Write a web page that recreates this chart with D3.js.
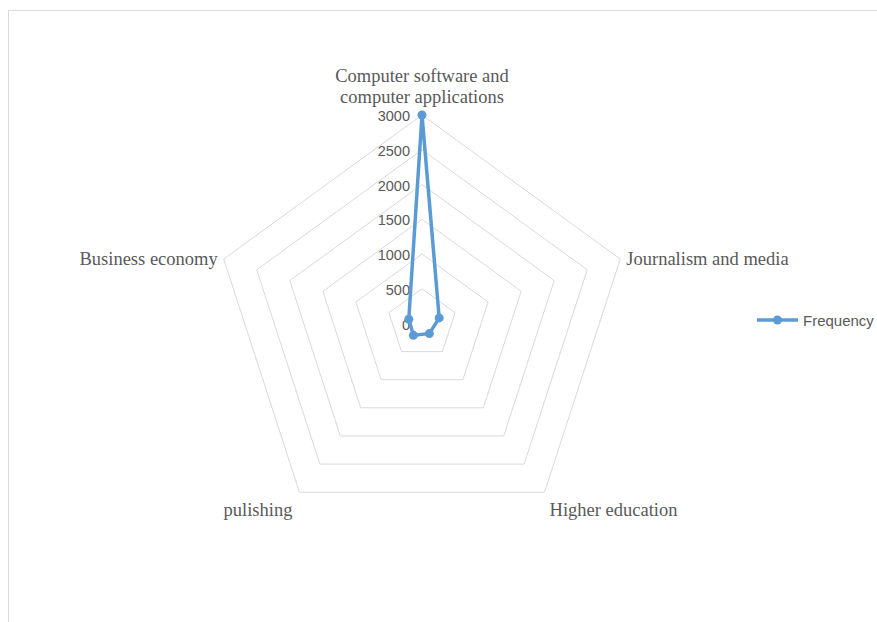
<!DOCTYPE html>
<html>
<head>
<meta charset="utf-8">
<script src="https://cdn.jsdelivr.net/npm/d3@7"></script>
<style>
  body { margin: 0; background: #fff; }
  svg { display: block; }
  .cat-label { font-family: "Liberation Serif", "Times New Roman", serif; font-size: 18.5px; fill: #595959; }
  .tick-label { font-family: "Liberation Sans", Arial, sans-serif; font-size: 14.5px; fill: #595959; }
  .legend-label { font-family: "Liberation Sans", Arial, sans-serif; font-size: 15px; fill: #595959; }
</style>
</head>
<body>
<svg id="chart"></svg>
<script>
// Data
const categories = [
  "Computer software and computer applications",
  "Journalism and media",
  "Higher education",
  "pulishing",
  "Business economy"
];
const frequency = [3000, 260, 180, 210, 200];
const tickValues = [0, 500, 1000, 1500, 2000, 2500, 3000];
const seriesName = "Frequency";

const width = 877, height = 622;
const cx = 422, cy = 323.5, radius = 208.5;
const lineColor = "#5B9BD5";
const gridColor = "#D9D9D9";

const svg = d3.select("#chart")
  .attr("width", width)
  .attr("height", height);

// chart area border (runs off right/bottom)
svg.append("rect")
  .attr("x", 8.5).attr("y", 10.5)
  .attr("width", 900).attr("height", 700)
  .attr("fill", "none")
  .attr("stroke", gridColor)
  .attr("stroke-width", 1);

const g = svg.append("g").attr("transform", `translate(${cx},${cy})`);

const rScale = d3.scaleLinear().domain([0, 3000]).range([0, radius]);
const angle = d3.scalePoint()
  .domain(categories)
  .range([0, 2 * Math.PI * (categories.length - 1) / categories.length]);

const radialLine = d3.lineRadial().curve(d3.curveLinearClosed);

// grid pentagons
g.selectAll(".ring")
  .data(tickValues.filter(v => v > 0))
  .join("path")
  .attr("class", "ring")
  .attr("d", v => radialLine(categories.map(c => [angle(c), rScale(v)])))
  .attr("fill", "none")
  .attr("stroke", gridColor)
  .attr("stroke-width", 1);

// tick labels along the top axis
g.selectAll(".tick-label")
  .data(tickValues)
  .join("text")
  .attr("class", "tick-label")
  .attr("x", -12)
  .attr("y", v => -rScale(v) + 1)
  .attr("text-anchor", "end")
  .attr("dominant-baseline", "central")
  .text(v => v);

// series
const pts = categories.map((c, i) => [angle(c), rScale(frequency[i])]);
g.append("path")
  .attr("d", radialLine(pts))
  .attr("fill", "none")
  .attr("stroke", lineColor)
  .attr("stroke-width", 3.5)
  .attr("stroke-linejoin", "round");

g.selectAll(".marker")
  .data(pts)
  .join("circle")
  .attr("class", "marker")
  .attr("cx", d => d[1] * Math.sin(d[0]))
  .attr("cy", d => -d[1] * Math.cos(d[0]))
  .attr("r", 4.5)
  .attr("fill", lineColor);

// category labels
categories.forEach((c, i) => {
  const a = angle(c);
  const vx = radius * Math.sin(a), vy = -radius * Math.cos(a);
  const t = g.append("text").attr("class", "cat-label");
  if (i === 0) {
    t.attr("text-anchor", "middle");
    t.append("tspan").attr("x", vx).attr("y", vy - 33).text("Computer software and");
    t.append("tspan").attr("x", vx).attr("y", vy - 12).text("computer applications");
  } else if (Math.abs(vy) < radius * 0.5) {
    t.attr("x", vx + (vx > 0 ? 6 : -6))
      .attr("y", vy + 6)
      .attr("text-anchor", vx > 0 ? "start" : "end")
      .text(c);
  } else {
    t.attr("x", vx + (vx > 0 ? 5 : -7))
      .attr("y", vy + 23.5)
      .attr("text-anchor", vx > 0 ? "start" : "end")
      .text(c);
  }
});

// legend
const legend = svg.append("g").attr("transform", "translate(757,320)");
legend.append("line")
  .attr("x1", 0).attr("x2", 41)
  .attr("y1", 0).attr("y2", 0)
  .attr("stroke", lineColor)
  .attr("stroke-width", 3.5);
legend.append("circle")
  .attr("cx", 20.5).attr("cy", 0).attr("r", 4.5)
  .attr("fill", lineColor);
legend.append("text")
  .attr("class", "legend-label")
  .attr("x", 46).attr("y", 0)
  .attr("dominant-baseline", "central")
  .text(seriesName);
</script>
</body>
</html>
